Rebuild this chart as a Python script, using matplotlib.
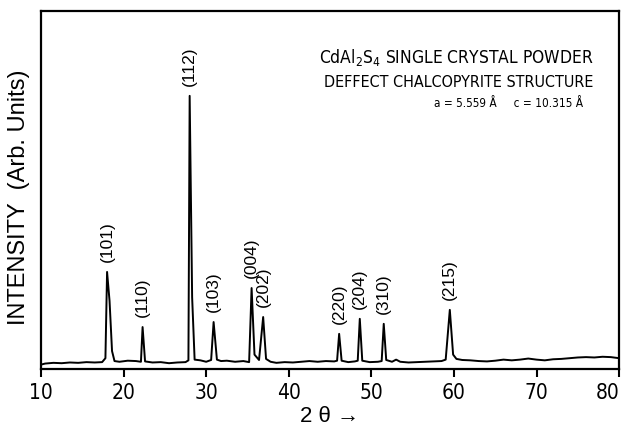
"""XRD pattern of CdAl2S4 single crystal powder."""
import matplotlib
matplotlib.use("Agg")
import matplotlib.pyplot as plt

plt.rcParams["mathtext.fontset"] = "custom"
plt.rcParams["mathtext.rm"] = "DejaVu Sans:stretch=condensed"

NARROW = ["DejaVu Sans"]
REGULAR = ["Liberation Sans", "DejaVu Sans"]

# trace: 2-theta (deg) and intensity (arb. units)
two_theta = [
    10.0, 10.5, 11.5, 12.5, 13.5, 14.5, 15.5, 16.5, 17.4, 17.8,
    18.0, 18.3, 18.6, 18.9, 19.5, 20.5, 21.5, 22.1, 22.3, 22.6,
    23.5, 24.5, 25.5, 26.5, 27.5, 27.85, 28.0, 28.3, 28.6, 29.3,
    30.0, 30.6, 30.9, 31.3, 31.8, 32.5, 33.5, 34.5, 35.2, 35.5,
    35.85, 36.4, 36.9, 37.25, 37.8, 38.5, 39.5, 40.5, 41.5, 42.5,
    43.5, 44.5, 45.5, 45.85, 46.1, 46.4, 47.2, 48.0, 48.35, 48.6,
    48.9, 49.8, 50.8, 51.25, 51.5, 51.8, 52.5, 53.0, 53.5, 54.5,
    55.5, 56.5, 57.5, 58.5, 59.0, 59.5, 59.9, 60.3, 61.0, 62.0,
    63.0, 64.0, 65.0, 66.0, 67.0, 68.0, 69.0, 70.0, 71.0, 72.0,
    73.0, 74.0, 75.0, 76.0, 77.0, 78.0, 79.0, 80.0,
]
intensity = [
    1.2, 1.5, 1.7, 1.6, 1.8, 1.7, 1.9, 1.8, 1.9, 3.0,
    27.1, 19.0, 5.0, 2.2, 2.0, 2.3, 2.2, 2.0, 11.7, 2.1,
    1.8, 1.9, 1.6, 1.8, 1.9, 2.4, 76.3, 20.0, 2.6, 2.4,
    2.0, 2.5, 13.1, 2.6, 2.2, 2.3, 2.0, 2.2, 1.9, 22.6,
    4.0, 2.5, 14.5, 2.8, 2.0, 1.7, 1.9, 1.8, 2.0, 2.2,
    2.0, 2.2, 2.1, 2.3, 9.8, 2.3, 1.9, 2.1, 2.3, 14.0,
    2.3, 1.9, 2.0, 2.2, 12.6, 2.5, 2.0, 2.6, 2.0, 1.8,
    1.9, 2.0, 2.1, 2.2, 2.6, 16.5, 4.0, 2.8, 2.5, 2.4,
    2.2, 2.1, 2.3, 2.6, 2.4, 2.6, 2.9, 2.6, 2.4, 2.7,
    2.8, 3.0, 3.2, 3.3, 3.2, 3.4, 3.3, 3.0,
]

# Miller indices of the indexed reflections
hkl_labels = ["(101)", "(110)", "(112)", "(103)", "(004)",
              "(202)", "(220)", "(204)", "(310)", "(215)"]
hkl_pos = [18.0, 22.3, 28.0, 30.9, 35.5, 36.9, 46.1, 48.6, 51.5, 59.5]
hkl_height = [27.1, 11.7, 76.3, 13.1, 22.6, 14.5, 9.8, 14.0, 12.6, 16.5]

x_ticks = [10, 20, 30, 40, 50, 60, 70, 80]

fig = plt.figure(figsize=(6.26, 4.32), dpi=100)
ax = fig.add_axes([0.0655, 0.146, 0.9235, 0.8285])

ax.plot(two_theta, intensity, color="black", lw=1.4)

for lab, xp, h in zip(hkl_labels, hkl_pos, hkl_height):
    ax.annotate(lab, xy=(xp, h), xytext=(0, 7), textcoords="offset points",
                rotation=90, ha="center", va="bottom", fontsize=12.5,
                family=REGULAR)

ax.set_xlim(10, 80)
ax.set_ylim(0, 100)
ax.set_xticks(x_ticks)
ax.set_xticklabels([str(t) for t in x_ticks], family=NARROW,
                   fontstretch="condensed", fontsize=15)
ax.get_xticklabels()[-1].set_horizontalalignment("right")
ax.set_yticks([])
ax.tick_params(axis="x", direction="out", length=6, width=1.5, pad=4)
for sp in ax.spines.values():
    sp.set_linewidth(1.6)

ax.set_ylabel("INTENSITY  (Arb. Units)", family=REGULAR, fontsize=17)
ax.yaxis.set_label_coords(-0.019, 0.48)
ax.set_xlabel("2 \u03b8 \u2192", family=REGULAR, fontsize=16, labelpad=2)

ax.text(0.955, 0.87, "CdAl$_2$S$_4$ SINGLE CRYSTAL POWDER",
        transform=ax.transAxes, ha="right", va="center",
        family=NARROW, fontstretch="condensed", fontsize=12.5)
ax.text(0.955, 0.8, "DEFFECT CHALCOPYRITE STRUCTURE",
        transform=ax.transAxes, ha="right", va="center",
        family=NARROW, fontstretch="condensed", fontsize=11.5)
ax.text(0.938, 0.742, "a = 5.559 \u00c5     c = 10.315 \u00c5",
        transform=ax.transAxes, ha="right", va="center",
        family=NARROW, fontstretch="condensed", fontsize=8.5)

fig.savefig("out.png", dpi=100)
